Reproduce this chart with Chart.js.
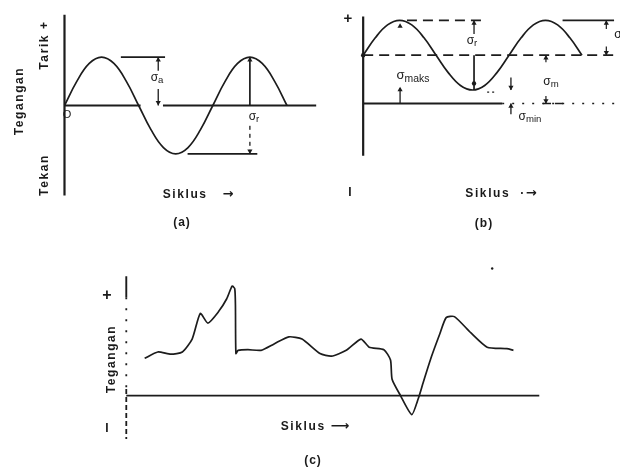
<!DOCTYPE html>
<html>
<head>
<meta charset="utf-8">
<script src="https://cdn.jsdelivr.net/npm/chart.js@4.4.0/dist/chart.umd.min.js"></script>
<style>
  html,body{margin:0;padding:0;background:#fff;}
  #wrap{position:relative;width:620px;height:469px;overflow:hidden;background:#fff;font-family:"Liberation Sans",Arial,sans-serif;color:#1a1a1a;}
  canvas{position:absolute;}
  .lb{position:absolute;white-space:nowrap;transform:translate(-50%,-50%);line-height:1;}
  .lb sub{font-size:0.8em;vertical-align:-0.25em;}
  .bd{font-weight:bold;}
  .ar{font-family:"DejaVu Sans",sans-serif;font-size:13px;letter-spacing:0;}
</style>
</head>
<body>
<div id="wrap">
  <canvas id="ca" width="330" height="240" style="left:0;top:0;"></canvas>
  <canvas id="cb" width="290" height="240" style="left:330px;top:0;"></canvas>
  <canvas id="cc" width="480" height="219" style="left:80px;top:250px;"></canvas>
</div>
<script>
// ---------- data ----------
// Panel (a): fully reversed cycle, cycles on x, stress on y (amplitude = 1)
const cycA    = [0, .083, .167, .25, .333, .417, .5, .583, .667, .75, .833, .917, 1, 1.083, 1.167, 1.25, 1.333, 1.417, 1.5];
const stressA = [0, .5, .87, 1, .87, .5, 0, -.5, -.87, -1, -.87, -.5, 0, .5, .87, 1, .87, .5, 0];

// Panel (b): repeated cycle about a mean stress
const cycB    = [0, .083, .167, .25, .333, .417, .5, .583, .667, .75, .833, .917, 1, 1.083, 1.167, 1.25, 1.333, 1.417, 1.5];
const stressB = [1.39, 1.89, 2.26, 2.39, 2.26, 1.89, 1.39, .89, .52, .39, .52, .89, 1.39, 1.89, 2.26, 2.39, 2.26, 1.89, 1.39];
const meanB = 1.39, maxB = 2.39, minB = 0.39;

// Panel (c): random (irregular) stress cycle
const cycC    = [4.45, 7.62, 10.79, 13.57, 15.95, 17.93, 19.76, 22.31, 24.29, 25.64, 26.26, 26.43, 26.55, 27.07, 29.45, 32.62, 35.79, 39.36, 42.55, 46.9, 49.69, 53.26, 56.83, 58.81, 62.38, 63.98, 64.36, 66.36, 69.12, 70.71, 71.9, 73.88, 75.88, 77.45, 79.45, 83.4, 87.38, 92.14, 93.74];
const stressC = [3.87, 4.53, 4.3, 4.53, 5.87, 8.53, 7.53, 8.7, 10.03, 11.37, 11.1, 9.4, 4.37, 4.7, 4.77, 4.7, 5.37, 6.1, 5.87, 4.37, 4.1, 4.7, 5.87, 5.03, 4.77, 3.7, 1.7, 0.03, -1.97, -0.3, 1.37, 4.03, 6.37, 8.1, 8.2, 6.53, 5.03, 4.87, 4.7];

// ---------- helpers ----------
const INK = '#1c1c1c';
const P = (x, y) => ({x, y});
const pts = (xs, ys) => xs.map((x, i) => P(x, ys[i]));
function line(data, dash, w) {
  return {type: 'line', data, borderColor: INK, borderWidth: w || 1.5, borderDash: dash || [],
          pointRadius: 0, tension: 0, fill: false, borderCapStyle: 'butt'};
}
function curve(data, w, t) {
  return {type: 'line', data, borderColor: INK, borderWidth: w || 1.6, pointRadius: 0, tension: t, fill: false};
}
function heads(list, r) {
  return {type: 'scatter', data: list.map(h => P(h[0], h[1])), pointStyle: 'triangle',
          pointRadius: r || 3, pointRotation: list.map(h => h[2]),
          pointBackgroundColor: INK, pointBorderColor: INK, pointBorderWidth: 0, showLine: false};
}
function make(id, datasets, xr, yr) {
  return new Chart(document.getElementById(id), {
    type: 'line',
    data: {datasets},
    options: {
      responsive: false, animation: false, events: [],
      layout: {padding: 0},
      plugins: {legend: {display: false}, tooltip: {enabled: false}},
      scales: {
        x: {type: 'linear', display: false, min: xr[0], max: xr[1]},
        y: {type: 'linear', display: false, min: yr[0], max: yr[1]}
      }
    }
  });
}

// ---------- panel (a) ----------
make('ca', [
  curve(pts(cycA, stressA), 1.7, 0.4),
  line([P(0, 1.88), P(0, -1.86)], [], 2.2),
  line([P(0, 0), P(0.513, 0)], [], 1.9),
  line([P(0.664, 0), P(1.697, 0)], [], 1.9),
  line([P(0.38, 1), P(0.678, 1)], [], 1.9),
  line([P(0.83, -1), P(1.30, -1)], [], 1.9),
  line([P(0.632, 1), P(0.632, 0.72)], [], 1.3),
  line([P(0.632, 0.34), P(0.632, 0)], [], 1.3),
  line([P(1.25, 0), P(1.25, 1)], [], 1.7),
  line([P(1.25, -0.42), P(1.25, -1)], [4, 4], 1.3),
  heads([[0.632, 0.94, 0], [0.632, 0.06, 180], [1.25, 0.94, 0], [1.25, -0.94, 180]])
], [-0.4079, 1.7632], [-2.7, 2.1]);

// ---------- panel (b) ----------
make('cb', [
  curve(pts(cycB, stressB), 1.7, 0.4),
  line([P(0, 2.5), P(0, -1.5)], [], 2.2),
  line([P(0, meanB), P(1.75, meanB)], [10, 6], 1.7),
  line([P(0.3, maxB), P(0.813, maxB)], [10, 6], 1.7),
  line([P(1.367, maxB), P(1.72, maxB)], [], 1.7),
  line([P(0, 0), P(0.953, 0)], [], 1.9),
  line([P(0.953, 0), P(1.75, 0)], [2, 8], 1.5),
  line([P(1.233, 0), P(1.38, 0)], [8, 4], 1.5),
  line([P(0.76, maxB), P(0.76, 2.0)], [], 1.3),
  line([P(0.76, meanB), P(0.76, minB)], [], 1.7),
  line([P(0.253, 0), P(0.253, 0.45)], [], 1.3),
  line([P(1.013, 0.75), P(1.013, minB)], [], 1.3),
  line([P(1.013, 0), P(1.013, -0.31)], [], 1.3),
  line([P(1.253, meanB), P(1.253, 1.19)], [], 1.2),
  line([P(1.253, 0.22), P(1.253, 0)], [], 1.2),
  line([P(1.667, maxB), P(1.667, 2.14)], [], 1.2),
  line([P(1.667, 1.64), P(1.667, meanB)], [], 1.2),
  line([P(0.85, 0.33), P(0.9, 0.33)], [2, 3], 1.4),
  heads([[0.76, 2.31, 0], [0.253, 0.4, 0], [0.253, 2.22, 0], [1.013, 0.47, 180], [1.013, -0.08, 0],
         [1.253, 1.31, 0], [1.253, 0.08, 180], [1.667, 2.31, 0], [1.667, 1.47, 180]]),
  {type: 'scatter', data: [P(0.76, 0.58), P(0, meanB)], pointRadius: 2.2, pointBackgroundColor: INK, pointBorderWidth: 0, showLine: false}
], [-0.2, 1.7333], [-3.8056, 2.8611]);

// ---------- panel (c) ----------
make('cc', [
  curve(pts(cycC, stressC), 1.7, 0.2),
  line([P(0, 0), P(100, 0)], [], 1.9),
  line([P(0, 12.4), P(0, 10.2)], [], 1.9),
  line([P(0, 10.2), P(0, 0.7)], [2, 9], 1.8),
  line([P(0, 0.7), P(0, -4.5)], [5, 3], 1.8),
  {type: 'scatter', data: [P(88.6, 13.2)], pointRadius: 1.2, pointBackgroundColor: INK, pointBorderWidth: 0, showLine: false}
], [-10.238, 104.05], [-7.2, 14.7]);

// ---------- text ----------
// [html, x, y, size, rotation, bold, letterSpacing]
const texts = [
  // panel (a)
  ['Tarik +', 44, 45, 12, -90, 1, 1.6],
  ['Tegangan', 19, 101, 12, -90, 1, 1.6],
  ['Tekan', 44, 175, 12, -90, 1, 1.6],
  ['O', 67, 114, 11, 0, 0, 0],
  ['σ<sub>a</sub>', 157, 78, 12, 0, 0, 0],
  ['σ<sub>r</sub>', 254, 117, 12, 0, 0, 0],
  ['Siklus&nbsp;&nbsp;&nbsp;<span class="ar">→</span>', 198, 193, 12, 0, 1, 1.6],
  ['(a)', 182, 222, 12, 0, 1, 1],
  // panel (b)
  ['+', 348, 17, 15, 0, 1, 0],
  ['σ<sub>maks</sub>', 413, 76, 13, 0, 0, 0],
  ['σ<sub>r</sub>', 472, 41, 12, 0, 0, 0],
  ['σ<sub>m</sub>', 551, 82, 12, 0, 0, 0],
  ['σ<sub>min</sub>', 530, 117, 12, 0, 0, 0],
  ['σ', 618, 34, 12, 0, 0, 0],
  ['I', 350, 192, 12, 0, 1, 0],
  ['Siklus&nbsp;&nbsp;·<span class="ar">→</span>', 501, 192, 12, 0, 1, 1.6],
  ['(b)', 484, 223, 12, 0, 1, 1],
  // panel (c)
  ['+', 107, 295, 16, 0, 1, 0],
  ['Tegangan', 111, 359, 12, -90, 1, 1.6],
  ['I', 107, 428, 12, 0, 1, 0],
  ['Siklus&nbsp;<span class="ar">⟶</span>', 315, 425, 12, 0, 1, 1.6],
  ['(c)', 313, 460, 12, 0, 1, 1]
];
const wrap = document.getElementById('wrap');
texts.forEach(([t, x, y, s, r, b, ls]) => {
  const d = document.createElement('div');
  d.className = 'lb' + (b ? ' bd' : '');
  d.innerHTML = t;
  d.style.left = x + 'px';
  d.style.top = y + 'px';
  d.style.fontSize = s + 'px';
  d.style.letterSpacing = ls + 'px';
  d.style.transform = 'translate(-50%,-50%) rotate(' + r + 'deg)';
  wrap.appendChild(d);
});
</script>
</body>
</html>
